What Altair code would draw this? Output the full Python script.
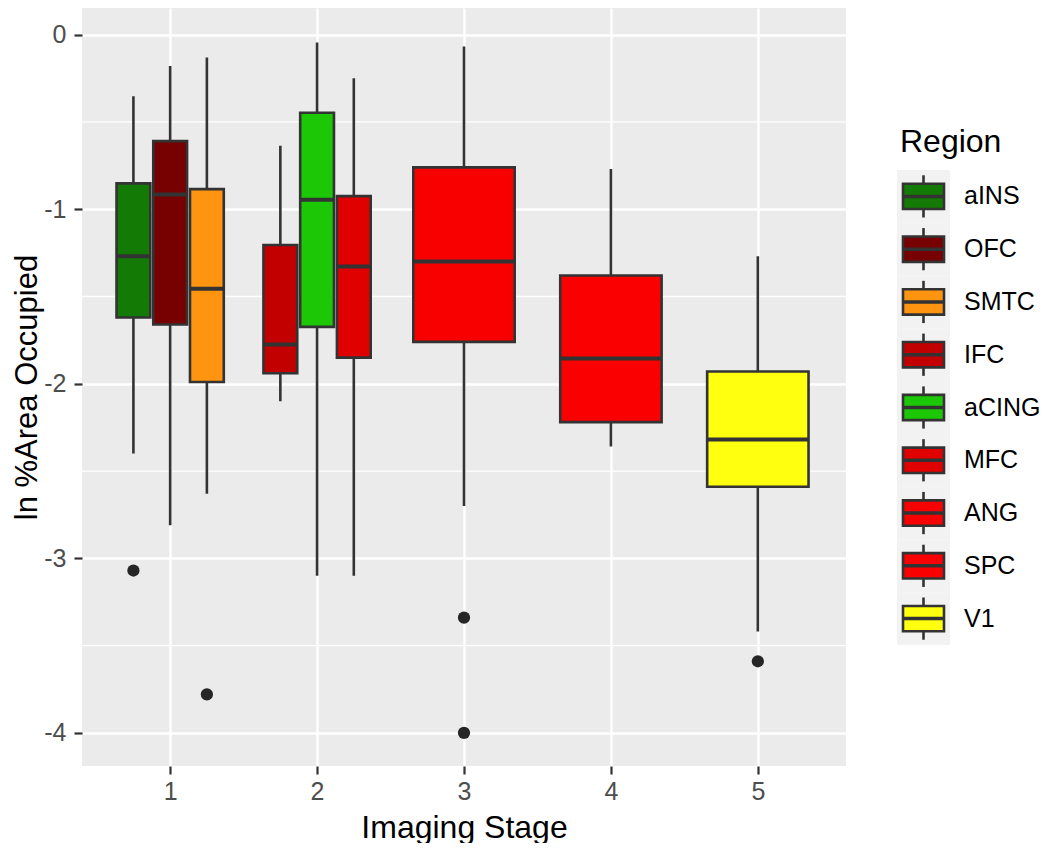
import altair as alt
import pandas as pd

# ---- data ----
stages  = [1, 1, 1, 2, 2, 2, 3, 4, 5]
regions = ["aINS", "OFC", "SMTC", "IFC", "aCING", "MFC", "ANG", "SPC", "V1"]
colors  = ["#127A05", "#770000", "#FF9411", "#C20000", "#1CC806",
           "#E00000", "#F80000", "#FA0000", "#FFFF10"]
whisker_low  = [-2.40, -2.81, -2.63, -2.10, -3.10, -3.10, -2.70, -2.36, -3.42]
q1           = [-1.62, -1.66, -1.99, -1.94, -1.674, -1.85, -1.76, -2.22, -2.59]
median       = [-1.27, -0.915, -1.455, -1.775, -0.945, -1.328, -1.30, -1.855, -2.32]
q3           = [-0.852, -0.61, -0.885, -1.205, -0.447, -0.925, -0.76, -1.38, -1.93]
whisker_high = [-0.352, -0.18, -0.13, -0.636, -0.045, -0.25, -0.068, -0.77, -1.27]

outlier_region = ["aINS", "SMTC", "ANG", "ANG", "V1"]
outlier_value  = [-3.07, -3.78, -3.34, -4.00, -3.59]

x_ticks = [1, 2, 3, 4, 5]
y_ticks = [0, -1, -2, -3, -4]
y_minor = [-0.5, -1.5, -2.5, -3.5]
legend_title = "Region"

FONT = "Liberation Sans"
DARK = "#333333"

# ---- dodge positions (ggplot position_dodge, width 0.75) ----
df = pd.DataFrame({
    "stage": stages, "region": regions,
    "lo": whisker_low, "q1": q1, "med": median, "q3": q3, "hi": whisker_high,
})
dodge = 0.75
df["n"] = df.groupby("stage")["region"].transform("count")
df["k"] = df.groupby("stage").cumcount()
df["center"] = df["stage"] - dodge / 2 + (df["k"] + 0.5) * dodge / df["n"]
df["half"] = 0.92 * dodge / df["n"] / 2
df["left"] = df["center"] - df["half"]
df["right"] = df["center"] + df["half"]

out = pd.DataFrame({"region": outlier_region, "value": outlier_value})
out = out.merge(df[["region", "center"]], on="region", how="left")

minor_df = pd.DataFrame({"y": y_minor})

color_scale = alt.Scale(domain=regions, range=colors)
xs = alt.Scale(domain=[0.4, 5.6], nice=False, zero=False)
ys = alt.Scale(domain=[-4.19, 0.153], nice=False, zero=False)

x_axis = alt.Axis(values=x_ticks, title="Imaging Stage", format="d",
                  labelExpr="'' + datum.value", labelPadding=5, titlePadding=8)
y_axis = alt.Axis(values=y_ticks, title="ln %Area Occupied",
                  labelExpr="datum.value < 0 ? '-' + abs(datum.value) : '' + datum.value",
                  labelPadding=8, titlePadding=0, titleFontSize=31)

base = alt.Chart(df)

minor = alt.Chart(minor_df).mark_rule(color="white", strokeWidth=1.3).encode(
    y=alt.Y("y:Q", scale=ys, axis=y_axis)
)

whisk = base.mark_rule(color=DARK, strokeWidth=2.6).encode(
    x=alt.X("center:Q", scale=xs, axis=x_axis),
    y=alt.Y("lo:Q", scale=ys),
    y2="hi:Q",
)

boxes = base.mark_rect(stroke=DARK, strokeWidth=2.6).encode(
    x=alt.X("left:Q", scale=xs),
    x2="right:Q",
    y=alt.Y("q1:Q", scale=ys),
    y2="q3:Q",
    fill=alt.Fill("region:N", scale=color_scale, legend=None),
)

meds = base.mark_rule(color=DARK, strokeWidth=4).encode(
    x=alt.X("left:Q", scale=xs),
    x2="right:Q",
    y=alt.Y("med:Q", scale=ys),
)

pts = alt.Chart(out).mark_circle(color="#262626", opacity=1, size=150).encode(
    x=alt.X("center:Q", scale=xs),
    y=alt.Y("value:Q", scale=ys),
)

main = alt.layer(minor, whisk, boxes, meds, pts).properties(
    width=764, height=758,
    view=alt.ViewBackground(fill="#EBEBEB", stroke=None),
)

# ---- custom ggplot-like legend ----
leg_df = pd.DataFrame({"region": regions})
ly = alt.Scale(domain=regions, range=[162, 637], paddingInner=0, paddingOuter=0)
lbase = alt.Chart(leg_df)

l_bg = lbase.mark_rect(color="#F2F2F2").encode(
    x=alt.value(0), x2=alt.value(53),
    y=alt.Y("region:N", scale=ly, axis=None, sort=regions),
)
l_wh = lbase.mark_bar(color=DARK, height=alt.RelativeBandSize(band=0.8)).encode(
    x=alt.value(25.2), x2=alt.value(27.8),
    y=alt.Y("region:N", scale=ly, axis=None, sort=regions),
)
l_box = lbase.mark_bar(stroke=DARK, strokeWidth=2.6,
                       height=alt.RelativeBandSize(band=0.48)).encode(
    x=alt.value(6), x2=alt.value(47),
    y=alt.Y("region:N", scale=ly, axis=None, sort=regions),
    fill=alt.Fill("region:N", scale=color_scale, legend=None),
)
l_med = lbase.mark_rule(color=DARK, strokeWidth=3.5).encode(
    x=alt.value(6), x2=alt.value(47),
    y=alt.Y("region:N", scale=ly, axis=None, sort=regions),
)
l_txt = lbase.mark_text(align="left", baseline="middle", fontSize=25,
                        font=FONT, color="black").encode(
    x=alt.value(67),
    y=alt.Y("region:N", scale=ly, axis=None, sort=regions),
    text="region:N",
)
l_title = alt.Chart(alt.Data(values=[{"t": legend_title}])).mark_text(
    align="left", baseline="alphabetic", fontSize=32, font=FONT, color="black"
).encode(x=alt.value(3), y=alt.value(144), text="t:N")

legend = alt.layer(l_bg, l_wh, l_box, l_med, l_txt, l_title).properties(
    width=128, height=758
)

chart = alt.hconcat(main, legend, spacing=50).properties(
    padding={"left": 3, "top": 0, "right": 0, "bottom": 0}, background="white"
).resolve_scale(fill="independent", y="independent", x="independent").configure(
    font=FONT
).configure_view(stroke=None).configure_axis(
    domain=False,
    grid=True,
    gridColor="white",
    gridWidth=2.4,
    tickColor=DARK,
    tickWidth=2.2,
    tickSize=8,
    labelColor="#4D4D4D",
    labelFontSize=25,
    labelFont=FONT,
    titleFont=FONT,
    titleFontSize=32,
    titleFontWeight="normal",
    titleColor="black",
)

chart.save("out.html", embed_options={"renderer": "svg", "actions": False})
